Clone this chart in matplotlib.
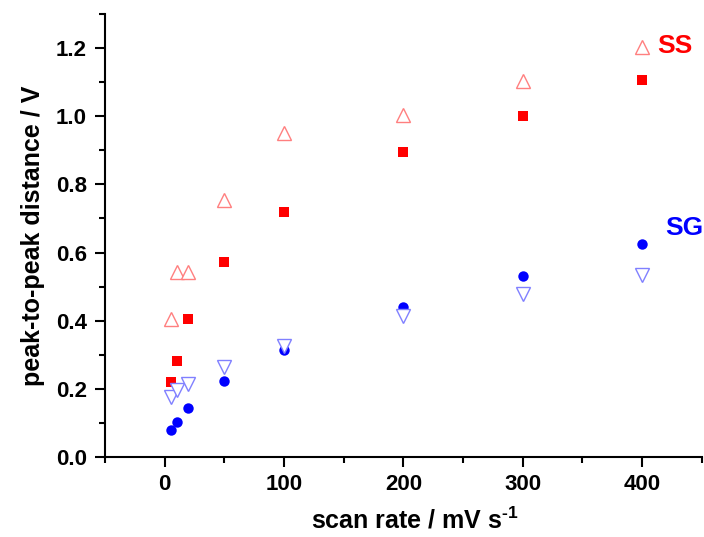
import matplotlib
matplotlib.use("Agg")
import matplotlib.pyplot as plt
from matplotlib.ticker import MultipleLocator

# ---- data ----
scan_rate = [5, 10, 20, 50, 100, 200, 300, 400]

ss_open = [0.406, 0.544, 0.544, 0.754, 0.952, 1.003, 1.103, 1.204]
ss_filled = [0.221, 0.282, 0.405, 0.571, 0.720, 0.894, 1.000, 1.106]
sg_filled = [0.079, 0.104, 0.145, 0.223, 0.314, 0.439, 0.531, 0.624]
sg_open = [0.175, 0.197, 0.214, 0.265, 0.327, 0.414, 0.477, 0.534]

plt.rcParams['font.family'] = ['Liberation Sans', 'DejaVu Sans']
plt.rcParams['font.weight'] = 'bold'
plt.rcParams['mathtext.fontset'] = 'custom'
plt.rcParams['mathtext.rm'] = 'Liberation Sans:bold'
plt.rcParams['mathtext.bf'] = 'Liberation Sans:bold'
plt.rcParams['mathtext.default'] = 'bf'

fig = plt.figure(figsize=(7.04, 5.37), dpi=100)
ax = fig.add_axes([0.149, 0.149, 0.848, 0.825])

ax.plot(scan_rate, ss_filled, 's', color='#ff0000', markersize=6.5, markeredgewidth=0)
ax.plot(scan_rate, ss_open, '^', color='#ff7f7f', markerfacecolor='white',
        markersize=9.5, markeredgewidth=1.0)
ax.plot(scan_rate, sg_filled, 'o', color='#0000ff', markersize=7.5, markeredgewidth=0)
ax.plot(scan_rate, sg_open, 'v', color='#8080ff', markerfacecolor='white',
        markersize=9.5, markeredgewidth=1.0)

ax.text(413, 1.206, 'SS', color='#ff0000', fontsize=19, fontweight='bold',
        ha='left', va='center')
ax.text(419, 0.672, 'SG', color='#0000ff', fontsize=19, fontweight='bold',
        ha='left', va='center')

ax.set_xlim(-50, 450)
ax.set_ylim(0, 1.3)
ax.xaxis.set_major_locator(MultipleLocator(100))
ax.xaxis.set_minor_locator(MultipleLocator(50))
ax.yaxis.set_minor_locator(MultipleLocator(0.1))
ax.set_yticks([0, 0.2, 0.4, 0.6, 0.8, 1.0, 1.2])
ax.set_yticklabels(['0.0', '0.2', '0.4', '0.6', '0.8', '1.0', '1.2'])

for s in ['top', 'right']:
    ax.spines[s].set_visible(False)
for s in ['left', 'bottom']:
    ax.spines[s].set_linewidth(1.5)

ax.tick_params(which='major', direction='out', length=7, width=1.5, labelsize=16)
ax.tick_params(axis='y', which='major', pad=6)
ax.tick_params(axis='x', which='major', pad=5)
ax.tick_params(which='minor', direction='out', length=4, width=1.5)
for lbl in ax.get_xticklabels() + ax.get_yticklabels():
    lbl.set_fontweight('bold')

ax.set_xlabel(r'scan rate / mV s$^{\text{-1}}$', fontsize=18, fontweight='bold')
ax.xaxis.set_label_coords(0.52, -0.112)
ax.set_ylabel('peak-to-peak distance / V', fontsize=18, fontweight='bold', labelpad=8)

fig.savefig('out.png', dpi=100)
